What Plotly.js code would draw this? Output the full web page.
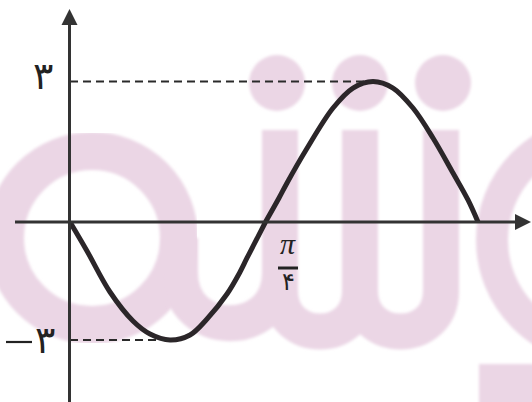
<!DOCTYPE html>
<html>
<head>
<meta charset="utf-8">
<script src="https://cdn.plot.ly/plotly-3.0.1.min.js"></script>
<style>
  html, body { margin: 0; padding: 0; background: #ffffff; }
  #chart { width: 532px; height: 402px; }
</style>
</head>
<body>
<div id="chart"></div>
<svg width="0" height="0" style="position:absolute">
  <filter id="soft"><feGaussianBlur stdDeviation="1.6"/></filter>
</svg>
<script>
// Curve y = f(x): one full wave, falling to the minimum first, then rising to the maximum.
const curveX = [0, 0.0683, 0.1607, 0.2531, 0.3214, 0.4017, 0.4821, 0.5504, 0.6307, 0.6830, 0.7111,
                0.7854, 0.8396, 0.8718, 0.9481, 1.0566, 1.1369, 1.2173, 1.2976, 1.3780, 1.4583,
                1.5387, 1.5989, 1.6391];
const curveY = [0, -0.737, -1.780, -2.517, -2.847, -3.0, -2.873, -2.466, -1.831, -1.271, -0.915,
                0, 0.512, 0.833, 1.537, 2.434, 2.861, 3.0, 2.861, 2.434, 1.794,
                1.046, 0.470, 0];

// Labelled values on the axes
const yTickVals = [3, -3];
const yTickText = ['۳', '۳'];
const xTickVal = Math.PI / 4;
const xTickNum = 'π';
const xTickDen = '۴';

const W = 532, H = 402;
const originPx = 70, crossPx = 265.5, zeroPy = 222;
const topScale = 46.83;   // px per unit above the x axis
const lowScale = 39.333;  // px per unit below the x axis

const pxPerX = (crossPx - originPx) / xTickVal;
const xRange = [-originPx / pxPerX, (W - originPx) / pxPerX];
const split = 1 - zeroPy / H;

// helpers: pixel -> paper fractions
const px = v => v / W;
const py = v => 1 - v / H;
const P = (x, y) => px(x).toFixed(5) + ',' + py(y).toFixed(5);

// split the wave at its middle zero crossing into the negative and positive lobes
let iCross = 1;
while (iCross < curveY.length - 1 && curveY[iCross] !== 0) iCross++;
const lowX = curveX.slice(0, iCross + 1), lowY = curveY.slice(0, iCross + 1);
const highX = curveX.slice(iCross), highY = curveY.slice(iCross);

const curveColor = '#2b2629';
const axisColor = '#333333';
const pink = '#ebd6e5';

const iMax = curveY.indexOf(Math.max(...curveY));
const iMin = curveY.indexOf(Math.min(...curveY));

const traces = [
  { x: lowX, y: lowY, xaxis: 'x', yaxis: 'y2', mode: 'lines',
    line: { color: curveColor, width: 5, shape: 'spline', smoothing: 1 }, hoverinfo: 'skip' },
  { x: highX, y: highY, xaxis: 'x', yaxis: 'y', mode: 'lines',
    line: { color: curveColor, width: 5, shape: 'spline', smoothing: 1 }, hoverinfo: 'skip' }
];

// background logo strokes
const shapes = [
  { type: 'circle', xref: 'paper', yref: 'paper', layer: 'below',
    x0: px(92 - 87), x1: px(92 + 87), y0: py(238 + 87), y1: py(238 - 87),
    line: { color: pink, width: 38 } },
  { type: 'path', xref: 'paper', yref: 'paper', layer: 'below',
    path: 'M' + P(180, 238) + ' L' + P(180, 273) + ' C' + P(180, 340) + ' ' + P(280, 340) + ' ' + P(280, 273) +
          ' M' + P(280, 130) + ' L' + P(280, 291) + ' C' + P(280, 345) + ' ' + P(360, 345) + ' ' + P(360, 291) + ' L' + P(360, 130) +
          ' M' + P(360, 291) + ' C' + P(360, 345) + ' ' + P(441, 345) + ' ' + P(441, 291) + ' L' + P(441, 130),
    line: { color: pink, width: 36 } },
  { type: 'circle', xref: 'paper', yref: 'paper', layer: 'below',
    x0: px(600 - 108), x1: px(600 + 108), y0: py(240 + 108), y1: py(240 - 108),
    line: { color: pink, width: 32 } },
  { type: 'rect', xref: 'paper', yref: 'paper', layer: 'below',
    x0: px(479), x1: px(540), y0: py(410), y1: py(364),
    line: { width: 0 }, fillcolor: pink }
];
[277, 360, 443].forEach(cx => shapes.push({
  type: 'circle', xref: 'paper', yref: 'paper', layer: 'below',
  x0: px(cx - 28), x1: px(cx + 28), y0: py(83 + 28), y1: py(83 - 28),
  line: { width: 0 }, fillcolor: pink }));
const nLogo = shapes.length;

// dashed guides to the extreme values
shapes.push(
  { type: 'line', xref: 'x', yref: 'y', x0: 0, x1: curveX[iMax], y0: yTickVals[0], y1: yTickVals[0],
    line: { color: '#2a2a2a', width: 2, dash: '8px,5px' } },
  { type: 'line', xref: 'x', yref: 'y2', x0: 0, x1: curveX[iMin], y0: yTickVals[1], y1: yTickVals[1],
    line: { color: '#2a2a2a', width: 2, dash: '8px,5px' } }
);

// coordinate axes with arrow heads
shapes.push(
  { type: 'line', xref: 'paper', yref: 'paper', x0: px(15), x1: px(518), y0: py(zeroPy), y1: py(zeroPy),
    line: { color: axisColor, width: 3 } },
  { type: 'path', xref: 'paper', yref: 'paper',
    path: 'M' + P(531, zeroPy) + ' L' + P(515, zeroPy - 8) + ' L' + P(515, zeroPy + 8) + ' Z',
    fillcolor: axisColor, line: { width: 0 } },
  { type: 'line', xref: 'paper', yref: 'paper', x0: px(69.5), x1: px(69.5), y0: py(402), y1: py(22),
    line: { color: axisColor, width: 3 } },
  { type: 'path', xref: 'paper', yref: 'paper',
    path: 'M' + P(69.5, 9) + ' L' + P(61.5, 25) + ' L' + P(77.5, 25) + ' Z',
    fillcolor: axisColor, line: { width: 0 } },
  // fraction bar of the x label
  { type: 'line', xref: 'paper', yref: 'paper', x0: px(278), x1: px(298), y0: py(268), y1: py(268),
    line: { color: '#222222', width: 3 } },
  // minus sign of the lower label
  { type: 'line', xref: 'paper', yref: 'paper', x0: px(6), x1: px(32), y0: py(342), y1: py(342),
    line: { color: '#222222', width: 2.2 } }
);

const digitFont = { family: 'DejaVu Sans', size: 38, color: '#222222' };
const annotations = [
  { xref: 'paper', yref: 'paper', x: px(43), y: py(76), text: yTickText[0], showarrow: false,
    xanchor: 'center', yanchor: 'middle', font: digitFont },
  { xref: 'paper', yref: 'paper', x: px(45), y: py(340), text: yTickText[1], showarrow: false,
    xanchor: 'center', yanchor: 'middle', font: digitFont },
  { xref: 'x', yref: 'paper', x: xTickVal, xshift: 288 - crossPx, y: py(243), text: xTickNum, showarrow: false,
    xanchor: 'center', yanchor: 'middle',
    font: { family: 'Liberation Serif', size: 30, color: '#222222', style: 'italic' } },
  { xref: 'x', yref: 'paper', x: xTickVal, xshift: 288 - crossPx, y: py(282), text: xTickDen, showarrow: false,
    xanchor: 'center', yanchor: 'middle', font: { family: 'DejaVu Sans', size: 24, color: '#222222' } }
];

const hidden = { visible: false, showgrid: false, zeroline: false, fixedrange: true };
const layout = {
  width: W, height: H, autosize: false,
  margin: { l: 0, r: 0, t: 0, b: 0, pad: 0 },
  paper_bgcolor: '#ffffff', plot_bgcolor: 'rgba(0,0,0,0)',
  showlegend: false,
  xaxis: Object.assign({ range: xRange, anchor: 'y' }, hidden),
  yaxis: Object.assign({ range: [0, zeroPy / topScale], domain: [split, 1], anchor: 'x' }, hidden),
  yaxis2: Object.assign({ range: [-(H - zeroPy) / lowScale, 0], domain: [0, split], anchor: 'x' }, hidden),
  shapes: shapes,
  annotations: annotations
};

Plotly.newPlot('chart', traces, layout, { staticPlot: true, displayModeBar: false }).then(gd => {
  // soften the edges of the background logo
  gd.querySelectorAll('.layer-below .shapelayer path').forEach((p, i) => {
    if (i < nLogo) p.setAttribute('filter', 'url(#soft)');
  });
});
</script>
</body>
</html>
